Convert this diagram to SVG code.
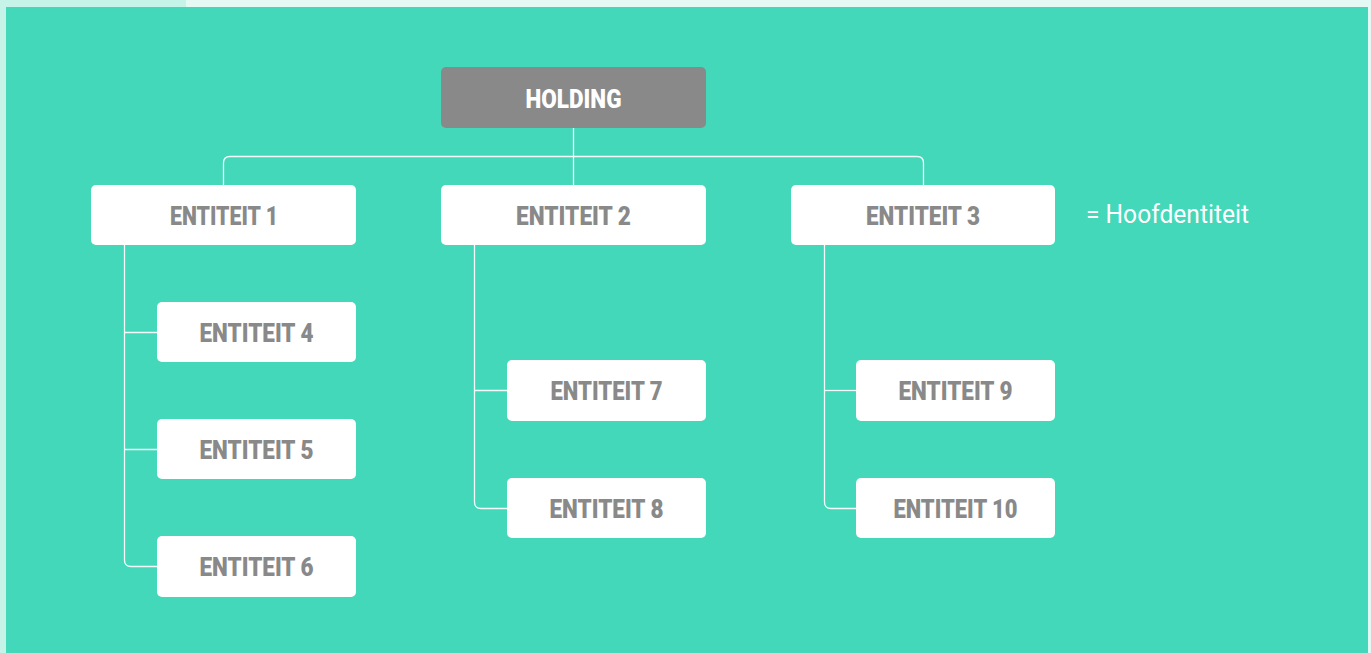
<svg xmlns="http://www.w3.org/2000/svg" width="1371" height="653" viewBox="0 0 1371 653">
<style>
.bg{fill:#42D8B9}
.node rect{fill:#FFFFFF}
.node text{font-family:Roboto,"Liberation Sans",sans-serif;font-weight:900;font-size:26px;fill:#898989;text-anchor:middle}
#holding rect{fill:#898989}
#holding text{fill:#FFFFFF}
.conn path{fill:none;stroke:#F2FFFB;stroke-width:1.3}
.legend{font-family:Roboto,"Liberation Sans",sans-serif;font-size:26px;fill:#FFFFFF}
</style>
<rect x="0" y="0" width="1371" height="653" fill="#E4F9F4"/>
<rect x="0" y="0" width="186" height="7" fill="#C5F3E8"/>
<rect x="0" y="0" width="6" height="653" fill="#C5F3E8"/>
<rect class="bg" x="6" y="7" width="1362" height="646"/>
<g class="conn">
<path d="M573.5 128 V185"/>
<path d="M223.5 185 V163 Q223.5 156.5 230 156.5 H917 Q923.5 156.5 923.5 163 V185"/>
<path d="M124.5 245 V560 Q124.5 566.5 131 566.5 H157"/>
<path d="M124.5 332.5 H157"/>
<path d="M124.5 449.5 H157"/>
<path d="M474.5 245 V502 Q474.5 508.5 481 508.5 H507"/>
<path d="M474.5 390.5 H507"/>
<path d="M824.5 245 V502 Q824.5 508.5 831 508.5 H856"/>
<path d="M824.5 390.5 H856"/>
</g>
<g id="holding" class="node"><rect x="441" y="67" width="265" height="61" rx="5"/><text x="573.5" y="108" textLength="96" lengthAdjust="spacingAndGlyphs">HOLDING</text></g>
<g id="e1" class="node"><rect x="91" y="185" width="265" height="60" rx="5"/><text x="224" y="225" textLength="108" lengthAdjust="spacingAndGlyphs">ENTITEIT 1</text></g>
<g id="e2" class="node"><rect x="441" y="185" width="265" height="60" rx="5"/><text x="573.5" y="225" textLength="115" lengthAdjust="spacingAndGlyphs">ENTITEIT 2</text></g>
<g id="e3" class="node"><rect x="791" y="185" width="264" height="60" rx="5"/><text x="923" y="225" textLength="114" lengthAdjust="spacingAndGlyphs">ENTITEIT 3</text></g>
<g id="e4" class="node"><rect x="157" y="302" width="199" height="60" rx="5"/><text x="256.5" y="342" textLength="114" lengthAdjust="spacingAndGlyphs">ENTITEIT 4</text></g>
<g id="e5" class="node"><rect x="157" y="419" width="199" height="60" rx="5"/><text x="256.5" y="459" textLength="114" lengthAdjust="spacingAndGlyphs">ENTITEIT 5</text></g>
<g id="e6" class="node"><rect x="157" y="536" width="199" height="61" rx="5"/><text x="256.5" y="576" textLength="114" lengthAdjust="spacingAndGlyphs">ENTITEIT 6</text></g>
<g id="e7" class="node"><rect x="507" y="360" width="199" height="61" rx="5"/><text x="606.5" y="400" textLength="112" lengthAdjust="spacingAndGlyphs">ENTITEIT 7</text></g>
<g id="e8" class="node"><rect x="507" y="478" width="199" height="60" rx="5"/><text x="606.5" y="518" textLength="114" lengthAdjust="spacingAndGlyphs">ENTITEIT 8</text></g>
<g id="e9" class="node"><rect x="856" y="360" width="199" height="61" rx="5"/><text x="955.5" y="400" textLength="114" lengthAdjust="spacingAndGlyphs">ENTITEIT 9</text></g>
<g id="e10" class="node"><rect x="856" y="478" width="199" height="60" rx="5"/><text x="955.5" y="518" textLength="124" lengthAdjust="spacingAndGlyphs">ENTITEIT 10</text></g>
<text class="legend" x="1086" y="223" textLength="163" lengthAdjust="spacingAndGlyphs">= Hoofdentiteit</text>
</svg>
